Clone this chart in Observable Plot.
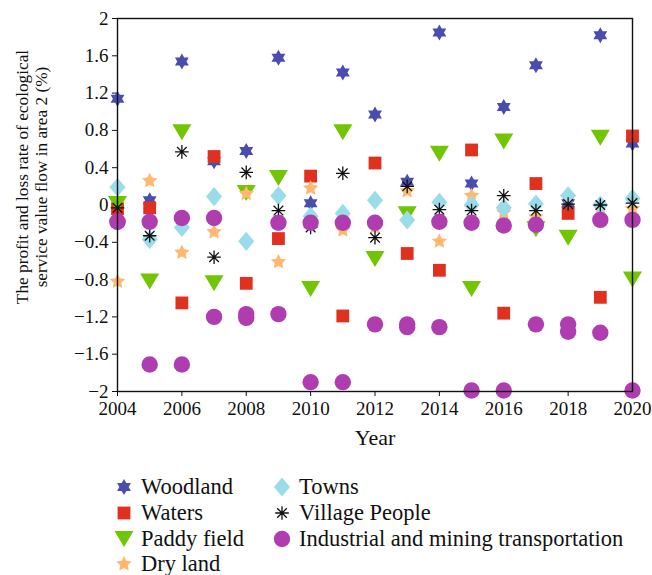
<!DOCTYPE html>
<html><head><meta charset="utf-8">
<script src="https://cdn.jsdelivr.net/npm/d3@7"></script>
<script src="https://cdn.jsdelivr.net/npm/@observablehq/plot@0.6"></script>
<style>
body{margin:0;background:#fff;font-family:"Liberation Serif","Times New Roman",serif;}
#chart svg{display:block;}
#legend{position:relative;height:113px;width:652px;}
.item{position:absolute;display:flex;align-items:center;height:26px;font-size:22.5px;color:#111;white-space:nowrap;}
.item svg{display:block;margin-right:6px;}
</style></head><body>
<div id="chart"></div>
<div id="legend"></div>
<script>
const years = [2004,2005,2006,2007,2008,2009,2010,2011,2012,2013,2014,2015,2016,2017,2018,2019,2020];
const woodland = [1.14,0.05,1.54,0.47,0.58,1.58,0.02,1.42,0.97,0.25,1.85,0.23,1.05,1.50,0.02,1.82,0.66];
const waters = [-0.04,-0.03,-1.05,0.52,-0.84,-0.36,0.31,-1.19,0.45,-0.52,-0.70,0.59,-1.16,0.23,-0.09,-0.99,0.74];
const paddyField = [0.01,-0.82,0.78,-0.84,0.13,0.29,-0.90,0.78,-0.58,-0.10,0.55,-0.90,0.68,-0.26,-0.35,0.72,-0.80];
const dryLand = [-0.82,0.26,-0.51,-0.29,0.12,-0.61,0.18,-0.27,-0.24,0.15,-0.39,0.10,-0.08,-0.13,0.09,-0.02,-0.04];
const towns = [0.19,-0.37,-0.24,0.09,-0.39,0.10,-0.12,-0.09,0.05,-0.16,0.03,0.00,-0.03,0.01,0.10,0.00,0.07];
const villagePeople = [-0.03,-0.33,0.57,-0.56,0.35,-0.06,-0.24,0.34,-0.35,0.20,-0.05,-0.06,0.10,-0.06,0.01,0.00,0.02];
const industrialA = [-0.18,-0.18,-0.14,-0.14,-1.17,-0.19,-0.19,-0.19,-0.19,-1.28,-0.18,-0.19,-0.22,-0.21,-1.28,-0.16,-0.16];
const industrialB = [-0.18,-1.71,-1.71,-1.20,-1.21,-1.17,-1.90,-1.90,-1.28,-1.31,-1.31,-1.99,-1.99,-1.28,-1.36,-1.37,-1.99];
const xTicks = [2004,2006,2008,2010,2012,2014,2016,2018,2020];
const yTicks = [-2,-1.6,-1.2,-0.8,-0.4,0,0.4,0.8,1.2,1.6,2];
const seriesNames = ["Woodland","Waters","Paddy field","Dry land","Towns","Village People","Industrial and mining transportation"];

// custom symbols
const hexagram = {draw(ctx, size){const R=Math.sqrt(size/Math.PI);for(let i=0;i<12;i++){const a=(-90+i*30)*Math.PI/180;const rr=i%2===0?R:R/Math.sqrt(3);const x=rr*Math.cos(a),y=rr*Math.sin(a);i?ctx.lineTo(x,y):ctx.moveTo(x,y);}ctx.closePath();}};
const star5 = {draw(ctx, size){const R=Math.sqrt(size/Math.PI);for(let i=0;i<10;i++){const a=(-90+i*36)*Math.PI/180;const rr=i%2===0?R:R*0.5;const x=rr*Math.cos(a),y=rr*Math.sin(a);i?ctx.lineTo(x,y):ctx.moveTo(x,y);}ctx.closePath();}};
const square = {draw(ctx, size){const s=Math.sqrt(size/Math.PI)*0.8;ctx.moveTo(-s,-s);ctx.lineTo(s,-s);ctx.lineTo(s,s);ctx.lineTo(-s,s);ctx.closePath();}};
const triDown = {draw(ctx, size){const s=Math.sqrt(size/Math.PI);ctx.moveTo(-1.19*s,-s);ctx.lineTo(1.19*s,-s);ctx.lineTo(0,s);ctx.closePath();}};
const diamond = {draw(ctx, size){const s=Math.sqrt(size/Math.PI);ctx.moveTo(0,-1.19*s);ctx.lineTo(s,0);ctx.lineTo(0,1.19*s);ctx.lineTo(-s,0);ctx.closePath();}};
const asterisk = {draw(ctx, size){const s=Math.sqrt(size/Math.PI);for(let i=0;i<4;i++){const a=i*45*Math.PI/180;ctx.moveTo(-s*Math.cos(a),-s*Math.sin(a));ctx.lineTo(s*Math.cos(a),s*Math.sin(a));}}};
const circle = {draw(ctx, size){const s=Math.sqrt(size/Math.PI);ctx.moveTo(s,0);ctx.arc(0,0,s,0,2*Math.PI);}};

const styles = [
  {name: seriesNames[0], values: [woodland], symbol: hexagram, r: 8, fill: "#4A4DB0"},
  {name: seriesNames[1], values: [waters], symbol: square, r: 8, fill: "#E0301F"},
  {name: seriesNames[2], values: [paddyField], symbol: triDown, r: 8, fill: "#72C502"},
  {name: seriesNames[3], values: [dryLand], symbol: star5, r: 8, fill: "#FFB86E"},
  {name: seriesNames[4], values: [towns], symbol: diamond, r: 8, fill: "#9BDCEA"},
  {name: seriesNames[5], values: [villagePeople], symbol: asterisk, r: 6.8, stroke: "#111"},
  {name: seriesNames[6], values: [industrialA, industrialB], symbol: circle, r: 8.2, fill: "#B03DB0"}
];

const marks = [];
for (const st of styles) {
  const rows = [];
  for (const arr of st.values) years.forEach((yr, i) => rows.push({year: yr, value: arr[i], series: st.name}));
  marks.push(Plot.dot(rows, {x: "year", y: "value", symbol: st.symbol, r: st.r,
    fill: st.fill || "none", stroke: st.stroke || "none", strokeWidth: st.stroke ? 1.3 : 0}));
}

const fmt = d => (d < 0 ? "\u2212" : "") + String(+Math.abs(d).toFixed(1));

const chart = Plot.plot({
  width: 652, height: 462,
  marginLeft: 117, marginRight: 20, marginTop: 18, marginBottom: 71,
  style: {fontSize: "19px", fontFamily: "'Liberation Serif','Times New Roman',serif", color: "#111", background: "#fff"},
  x: {domain: [2004, 2020]},
  y: {domain: [-2, 2]},
  marks: [
    Plot.axisX({ticks: xTicks, tickFormat: d => String(d), tickSize: 5, tickPadding: 5, label: null}),
    Plot.axisY({ticks: yTicks, tickFormat: fmt, tickSize: 5, tickPadding: 4, label: null}),
    ...marks,
    Plot.frame({stroke: "#111", strokeWidth: 1.4}),
    Plot.text(["Year"], {frameAnchor: "bottom", dy: 53, fontSize: 22, textAnchor: "middle"}),
    Plot.text(["The profit and loss rate of ecological\nservice value flow in area 2 (%)"], {frameAnchor: "left", rotate: -90, dx: -86, dy: -28, fontSize: 17.3, lineHeight: 1.07, textAnchor: "middle"})
  ]
});
document.getElementById("chart").appendChild(chart);

// legend
const legend = document.getElementById("legend");
const positions = [[124,487],[124,513],[124,539],[124,564],[282,487],[282,513],[282,539]];
styles.forEach((st, i) => {
  const [cx, cy] = positions[i];
  const div = document.createElement("div");
  div.className = "item";
  div.style.left = (cx - 11) + "px";
  div.style.top = (cy - 462 - 13) + "px";
  const path = d3.symbol(st.symbol, Math.PI * st.r * st.r)();
  div.innerHTML = `<svg width="22" height="22" viewBox="-11 -11 22 22"><path d="${path}" fill="${st.fill || "none"}" stroke="${st.stroke || "none"}" stroke-width="1.3"/></svg><span>${st.name}</span>`;
  legend.appendChild(div);
});
</script>
</body></html>
